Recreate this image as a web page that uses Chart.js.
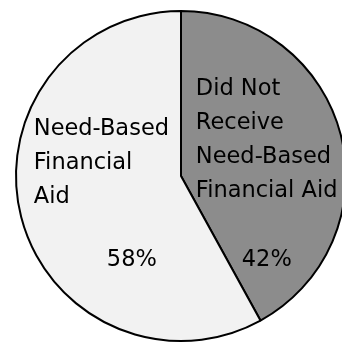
<!DOCTYPE html>
<html>
<head>
<meta charset="utf-8">
<script src="https://cdn.jsdelivr.net/npm/chart.js@4"></script>
<style>
  html, body { margin: 0; padding: 0; background: #fff; overflow: hidden; width: 342px; height: 342px; }
  #wrap { position: absolute; left: 11px; top: 6px; width: 340px; height: 340px; }
</style>
</head>
<body>
<div id="wrap"><canvas id="aidChart" width="340" height="340"></canvas></div>
<script>
    const categories = ['Did Not Receive Need-Based Financial Aid', 'Need-Based Financial Aid'];
    const shares = [42, 58];
    const sliceColors = ['#8c8c8c', '#f2f2f2'];

    // text blocks drawn inside each slice; offsets are in units of the pie radius,
    // dy is the baseline of the first line
    const sliceLabels = [
        { lines: ['Did Not', 'Receive', 'Need-Based', 'Financial Aid'], dx: 0.09, dy: -0.488, pct: { dx: 0.52, dy: 0.548 } },
        { lines: ['Need-Based', 'Financial', 'Aid'], dx: -0.892, dy: -0.247, pct: { dx: -0.298, dy: 0.548 } }
    ];
    const lineStep = 0.205;

    const labelPlugin = {
        id: 'sliceText',
        afterDatasetsDraw(chart) {
            const ctx = chart.ctx;
            const arc = chart.getDatasetMeta(0).data[0];
            const { x, y, outerRadius } = arc.getProps(['x', 'y', 'outerRadius'], true);
            ctx.save();
            ctx.fillStyle = '#000';
            ctx.font = '22.5px "DejaVu Sans", Verdana, sans-serif';
            ctx.textBaseline = 'alphabetic';
            sliceLabels.forEach((lbl, i) => {
                ctx.textAlign = 'left';
                lbl.lines.forEach((line, k) => {
                    ctx.fillText(line, x + lbl.dx * outerRadius, y + (lbl.dy + k * lineStep) * outerRadius);
                });
                ctx.textAlign = 'center';
                ctx.fillText(shares[i] + '%', x + lbl.pct.dx * outerRadius, y + lbl.pct.dy * outerRadius);
            });
            ctx.restore();
        }
    };

    new Chart(document.getElementById('aidChart'), {
        type: 'pie',
        data: {
            labels: categories,
            datasets: [{
                data: shares,
                backgroundColor: sliceColors,
                borderColor: '#000',
                borderWidth: 2
            }]
        },
        options: {
            responsive: false,
            animation: false,
            layout: { padding: 4 },
            plugins: {
                legend: { display: false },
                tooltip: { enabled: false }
            }
        },
        plugins: [labelPlugin]
    });
</script>
</body>
</html>
